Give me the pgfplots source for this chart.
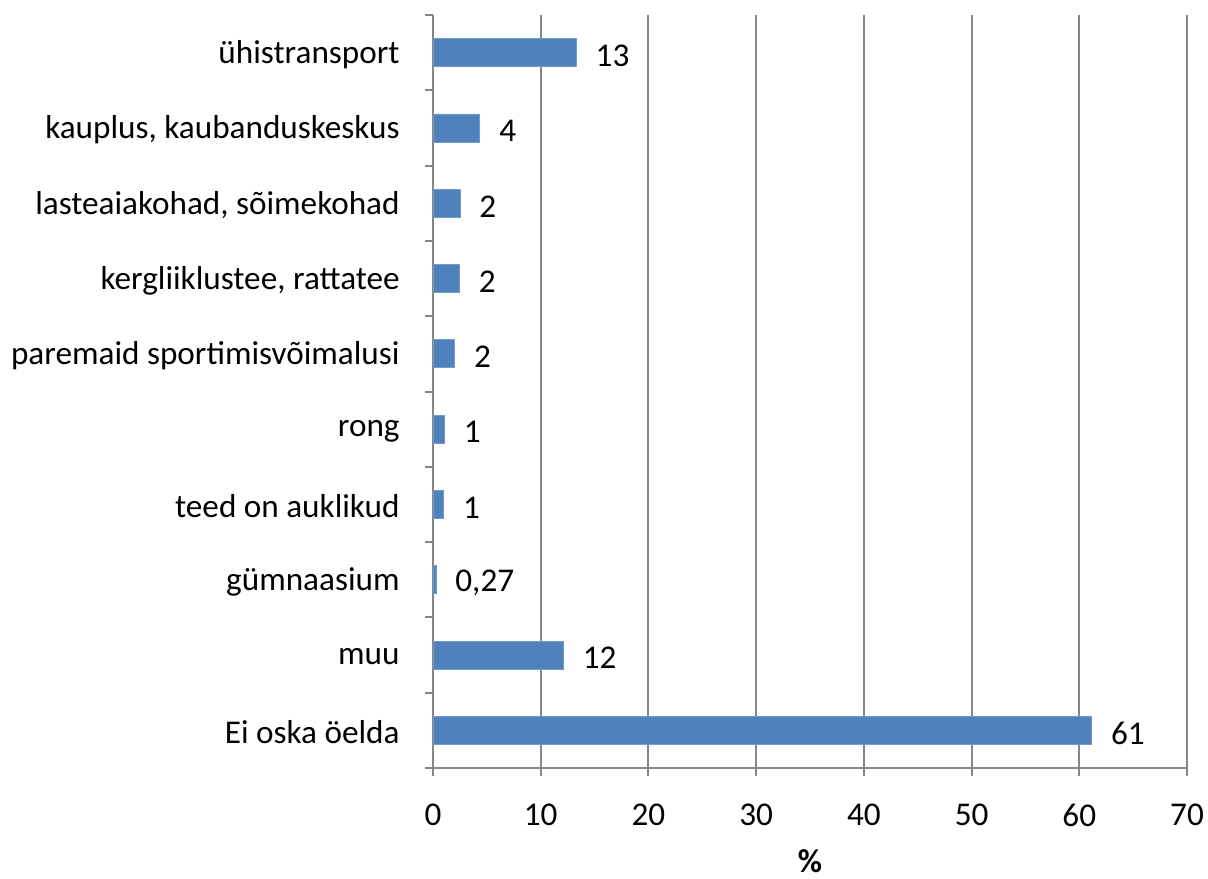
\documentclass[border=0pt]{standalone}
\usepackage{pgfplots}
\pgfplotsset{compat=1.18}
\usepackage{fontspec}
\setmainfont{Carlito}
\definecolor{barblue}{HTML}{4F81BD}
\definecolor{axgray}{HTML}{868686}
\begin{document}
\fontsize{16.6}{20}\selectfont
\begin{tikzpicture}
\begin{axis}[
  name=ax,
  scale only axis,
  width=377pt, height=376.5pt,
  xbar,
  bar width=14pt,
  xmin=0, xmax=70,
  ymin=-0.5, ymax=9.5,
  xtick={0,10,...,70},
  ytick={0,...,9},
  yticklabels={Ei oska öelda, muu, gümnaasium, teed on auklikud, rong, paremaid sportimisvõimalusi, {kergliiklustee, rattatee}, {lasteaiakohad, sõimekohad}, {kauplus, kaubanduskeskus}, ühistransport},
  minor ytick={-0.5,0.5,...,9.5},
  major tick length=0pt,
  minor tick length=4pt,
  tick align=outside,
  xtick style={axgray, line width=1pt},
  ytick style={axgray, line width=1pt},
  extra x ticks={0,10,...,70},
  extra x tick labels={},
  extra x tick style={major tick length=4pt, grid=none},
  xmajorgrids,
  major grid style={axgray, line width=1pt},
  axis x line*=bottom,
  axis y line*=left,
  axis line style={axgray, line width=1.3pt, -},
  font=\fontsize{16.6}{20}\selectfont,
  xticklabel style={inner sep=0pt, yshift=-18pt, text=black},
  yticklabel style={inner sep=0pt, xshift=-16.5pt, yshift=-1pt, text=black},
  xlabel={\textbf{\%}},
  xlabel style={inner sep=0pt, yshift=-7pt},
  /pgf/number format/assume math mode=true,
  point meta=explicit symbolic,
  nodes near coords,
  every node near coord/.append style={anchor=west, xshift=4pt, yshift=-1.5pt, text=black, font=\fontsize{16.6}{20}\selectfont},
]
\addplot[fill=barblue, draw=barblue!80!white] coordinates {
  (61.15,0) [61]
  (12.1,1) [12]
  (0.27,2) [{0,27}]
  (1.0,3) [1]
  (1.05,4) [1]
  (2.0,5) [2]
  (2.45,6) [2]
  (2.5,7) [2]
  (4.35,8) [4]
  (13.3,9) [13]
};
\end{axis}
\path ([xshift=-216.5pt, yshift=-55pt]ax.south west) rectangle ([xshift=10.5pt, yshift=7.5pt]ax.north east);
\end{tikzpicture}
\end{document}
